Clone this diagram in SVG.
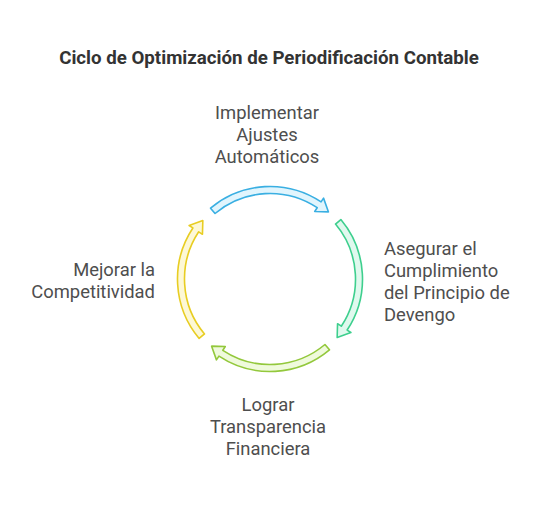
<svg xmlns="http://www.w3.org/2000/svg" width="550" height="505" viewBox="0 0 550 505">
<style>
.title{font-family:Roboto,"Liberation Sans",sans-serif;font-size:18.7px;font-weight:bold;fill:#333333}
.lbl{font-family:Roboto,"Liberation Sans",sans-serif;font-size:18.4px;fill:#4e4e4e}
.arc{stroke-width:1.6;stroke-linejoin:round}
</style>
<defs>
<path id="arcShape" d="M210.542,208.141 A92.5,92.5 0 0 1 321.054,201.866 L323.538,198.113 L328.389,211.831 L314.707,211.455 L317.191,207.703 A85.5,85.5 0 0 0 215.042,213.503 Z"/>
</defs>
<rect width="550" height="505" fill="#ffffff"/>
<text class="title" x="269" y="64" text-anchor="middle">Ciclo de Optimización de Periodificación Contable</text>
<g id="connectors">
<use href="#arcShape" class="arc" fill="#e1f5fd" stroke="#3aafe2"/>
<use href="#arcShape" class="arc" fill="#e0f9ee" stroke="#3ecf8e" transform="rotate(90 270 279)"/>
<use href="#arcShape" class="arc" fill="#effadc" stroke="#93c83c" transform="rotate(180 270 279)"/>
<use href="#arcShape" class="arc" fill="#fdf8d6" stroke="#e8cd22" transform="rotate(270 270 279)"/>
</g>
<g id="node-top">
<text class="lbl" text-anchor="middle" x="267" y="119">Implementar</text>
<text class="lbl" text-anchor="middle" x="267" y="141">Ajustes</text>
<text class="lbl" text-anchor="middle" x="267" y="163">Automáticos</text>
</g>
<g id="node-right">
<text class="lbl" x="384" y="255">Asegurar el</text>
<text class="lbl" x="384" y="277">Cumplimiento</text>
<text class="lbl" x="384" y="299">del Principio de</text>
<text class="lbl" x="384" y="321">Devengo</text>
</g>
<g id="node-bottom">
<text class="lbl" text-anchor="middle" x="268" y="411">Lograr</text>
<text class="lbl" text-anchor="middle" x="268" y="433">Transparencia</text>
<text class="lbl" text-anchor="middle" x="268" y="455">Financiera</text>
</g>
<g id="node-left">
<text class="lbl" text-anchor="end" x="155" y="276">Mejorar la</text>
<text class="lbl" text-anchor="end" x="155" y="298">Competitividad</text>
</g>
</svg>
